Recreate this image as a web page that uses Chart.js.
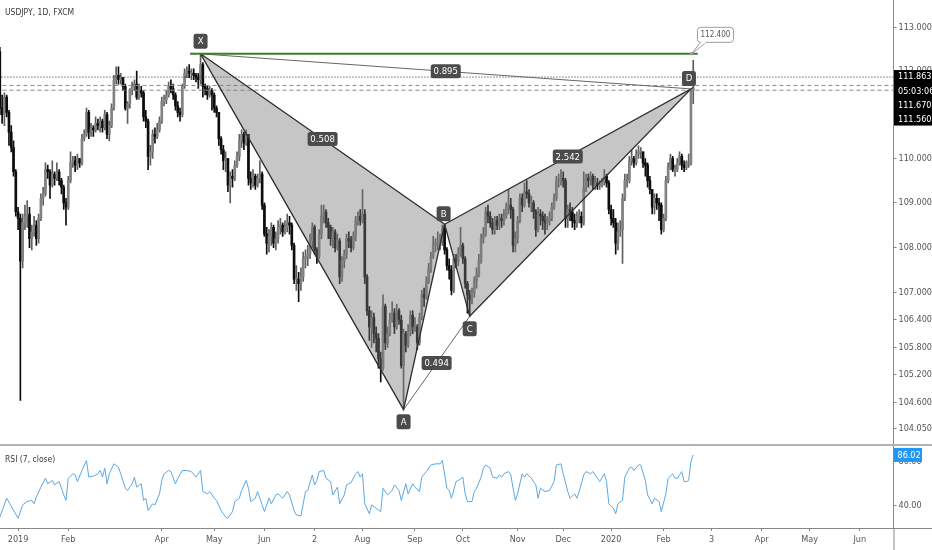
<!DOCTYPE html>
<html>
<head>
<meta charset="utf-8">
<script src="https://cdn.jsdelivr.net/npm/chart.js@4.4.1/dist/chart.umd.min.js"></script>
<style>
  html, body { margin: 0; padding: 0; background: #fff; }
  #wrap { width: 932px; height: 550px; overflow: hidden; }
  canvas { display: block; }
</style>
</head>
<body>
<div id="wrap">
  <canvas id="priceChart" width="932" height="444"></canvas>
  <canvas id="rsiChart" width="932" height="106"></canvas>
</div>
<script>
// bar index 0 = 1 Jan 2019, the first bar on screen is index -7
const firstIndex = -7;
const firstOpen = 112.45;

const closes = [
  111.15,111.00,111.40,111.05,110.60,110.25,109.70,108.80,108.65,107.70,
  108.55,108.70,108.75,108.20,108.35,108.50,108.20,108.65,109.10,109.20,
  109.75,109.70,109.40,109.65,109.55,109.70,109.50,109.35,109.00,108.90,
  109.50,109.90,109.95,109.85,110.00,109.90,110.45,110.55,111.05,110.60,
  110.70,110.65,110.80,110.75,110.85,110.70,111.00,110.55,110.75,111.15,
  111.80,111.90,111.80,111.85,111.65,111.15,111.25,111.55,111.65,111.70,
  111.40,111.55,111.50,110.95,110.85,110.05,110.15,110.55,110.50,110.65,
  110.85,111.30,111.35,111.45,111.65,111.60,111.45,111.20,111.05,111.00,
  111.65,111.95,112.00,111.95,111.95,111.90,111.85,111.80,112.15,111.65,
  111.60,111.45,111.55,111.45,111.15,111.05,110.45,110.20,109.95,110.00,
  109.40,109.60,109.55,109.85,110.05,110.40,110.55,110.35,110.55,109.55,
  109.45,109.60,109.40,109.55,109.65,108.95,108.30,108.10,108.25,108.45,
  108.10,108.20,108.45,108.50,108.35,108.45,108.55,108.50,108.05,107.30,
  107.30,107.20,107.35,107.75,107.80,107.85,108.15,108.45,107.95,107.80,
  108.30,108.70,108.80,108.55,108.45,108.20,108.35,108.00,108.15,107.35,
  107.70,107.85,108.20,108.15,108.00,108.25,108.60,108.70,108.60,108.75,
  107.35,106.60,106.25,106.45,106.10,106.00,105.55,105.35,106.70,105.90,
  106.10,106.40,106.55,106.25,106.60,106.40,105.40,106.10,105.85,106.15,
  106.50,106.25,106.25,105.90,106.45,106.95,106.90,107.25,107.55,107.80,
  108.05,108.10,108.10,108.15,108.40,107.95,107.60,107.50,107.05,107.75,
  107.70,107.90,108.05,107.75,107.20,106.95,106.85,107.00,107.25,107.40,
  107.70,108.20,108.30,108.80,108.70,108.55,108.40,108.60,108.50,108.65,
  108.60,108.70,108.90,108.95,108.85,108.05,108.20,108.60,109.10,108.95,
  109.25,109.20,109.00,109.00,108.80,108.40,108.75,108.70,108.60,108.55,
  108.60,108.65,108.90,109.10,109.50,109.50,109.55,109.50,108.65,108.85,
  108.80,108.60,108.55,108.70,108.70,108.55,109.35,109.55,109.50,109.60,
  109.40,109.45,109.40,109.40,109.45,109.60,109.45,108.85,108.65,108.55,
  108.10,108.35,108.40,109.10,109.50,109.50,109.95,110.00,109.90,110.10,
  110.15,110.15,109.90,109.85,109.50,109.30,108.90,109.10,109.00,108.95,
  108.40,108.65,109.50,109.80,110.00,109.75,109.75,109.90,110.05,109.85,
  109.80,109.90,109.90,111.55,111.62
];
const highs = [
  112.55,111.45,111.50,111.45,111.10,110.75,110.40,109.75,108.90,108.75,
  108.75,108.95,109.05,108.90,108.50,108.70,108.60,108.75,109.20,109.35,
  109.90,109.85,109.75,109.95,109.70,109.90,109.75,109.55,109.40,109.10,
  109.60,110.15,110.05,110.05,110.10,110.00,110.55,110.65,111.15,111.10,
  110.80,110.75,110.95,110.90,110.95,110.90,111.10,111.05,110.85,111.25,
  111.90,112.10,112.10,111.95,111.85,111.70,111.30,111.60,111.75,111.80,
  112.00,111.70,111.65,111.55,111.10,110.90,110.30,110.65,110.70,110.80,
  110.95,111.40,111.45,111.55,111.75,111.80,111.70,111.50,111.30,111.15,
  111.70,112.05,112.10,112.15,112.05,112.05,111.95,111.95,112.40,112.20,
  111.70,111.65,111.65,111.60,111.50,111.20,110.95,110.50,110.30,110.15,
  110.00,109.70,109.75,109.95,110.15,110.55,110.65,110.60,110.65,110.50,
  109.70,109.75,109.65,109.65,109.95,109.70,109.00,108.45,108.40,108.55,
  108.50,108.35,108.60,108.65,108.55,108.60,108.75,108.70,108.55,108.10,
  107.60,107.45,107.55,107.90,107.95,108.05,108.30,108.55,108.50,108.00,
  108.40,108.95,108.95,108.85,108.65,108.50,108.45,108.40,108.30,108.20,
  107.80,107.95,108.30,108.35,108.25,108.35,108.70,108.80,108.85,109.30,
  108.85,107.40,106.70,106.60,106.55,106.25,106.10,105.70,106.95,106.75,
  106.25,106.55,106.80,106.65,106.75,106.65,106.50,106.20,106.15,106.30,
  106.60,106.60,106.45,106.30,106.55,107.05,107.10,107.35,107.65,107.90,
  108.25,108.20,108.35,108.30,108.50,108.52,108.00,107.75,107.60,107.85,
  107.85,108.00,108.45,108.10,107.80,107.25,107.05,107.10,107.35,107.55,
  107.85,108.30,108.45,108.90,108.95,108.80,108.65,108.70,108.70,108.75,
  108.75,108.85,109.00,109.30,109.10,108.90,108.35,108.70,109.20,109.20,
  109.45,109.50,109.30,109.15,109.05,108.85,108.90,108.85,108.80,108.75,
  108.70,108.80,109.00,109.20,109.60,109.65,109.75,109.70,109.55,108.95,
  109.00,108.90,108.75,108.80,108.85,108.80,109.70,109.65,109.65,109.70,
  109.65,109.60,109.55,109.50,109.55,109.75,109.65,109.50,108.95,108.85,
  108.65,108.55,108.60,109.20,109.65,109.65,110.05,110.20,110.05,110.20,
  110.29,110.25,110.15,110.00,109.90,109.60,109.30,109.20,109.20,109.10,
  109.00,108.75,109.60,109.90,110.10,110.05,109.85,110.00,110.15,110.10,
  109.95,109.95,110.10,111.60,112.25
];
const lows = [
  111.00,110.80,110.75,110.95,110.30,110.15,109.60,108.70,108.40,104.65,
  107.55,108.40,108.45,108.00,107.95,108.25,108.05,108.10,108.60,108.95,
  109.15,109.55,109.10,109.35,109.40,109.50,109.40,109.20,108.85,108.50,
  108.85,109.45,109.80,109.70,109.75,109.80,109.85,110.40,110.50,110.45,
  110.50,110.50,110.60,110.65,110.60,110.60,110.65,110.45,110.40,110.70,
  111.10,111.70,111.70,111.70,111.55,111.10,110.80,111.15,111.45,111.55,
  111.35,111.35,111.40,110.85,110.70,109.75,109.85,110.00,110.35,110.45,
  110.60,110.80,111.20,111.25,111.40,111.50,111.35,111.10,110.95,110.85,
  110.95,111.60,111.85,111.85,111.80,111.80,111.75,111.60,111.70,111.40,
  111.45,111.35,111.40,111.10,111.05,110.95,110.30,110.10,109.75,109.70,
  109.25,109.00,109.35,109.50,109.80,109.95,110.25,110.20,110.30,109.40,
  109.30,109.35,109.30,109.35,109.45,108.85,108.25,107.85,107.90,108.05,
  108.00,107.95,108.10,108.30,108.25,108.30,108.35,108.30,107.95,107.20,
  107.05,106.80,107.05,107.25,107.55,107.60,107.75,108.00,107.85,107.65,
  107.75,108.20,108.55,108.45,108.20,108.05,108.00,107.90,107.95,107.20,
  107.25,107.55,107.75,108.00,107.90,107.95,108.15,108.50,108.50,108.55,
  107.20,106.50,105.95,105.80,105.90,105.70,105.35,105.05,105.30,105.75,
  105.80,106.05,106.35,106.10,106.20,106.30,105.35,104.45,105.70,105.80,
  106.05,106.10,106.15,105.75,105.85,106.40,106.70,106.85,107.20,107.45,
  107.75,107.90,107.95,107.95,108.05,107.85,107.50,107.30,106.95,107.00,
  107.55,107.60,107.80,107.65,107.10,106.55,106.48,106.75,106.90,107.10,
  107.35,107.65,108.10,108.25,108.55,108.45,108.30,108.30,108.40,108.40,
  108.45,108.50,108.65,108.75,108.65,107.90,107.90,108.10,108.55,108.80,
  108.90,109.10,108.90,108.80,108.65,108.25,108.35,108.50,108.40,108.30,
  108.40,108.50,108.60,108.85,109.05,109.35,109.40,109.35,108.45,108.45,
  108.60,108.45,108.40,108.45,108.55,108.45,108.50,109.25,109.35,109.40,
  109.30,109.30,109.30,109.30,109.35,109.40,109.35,108.75,108.50,108.45,
  107.85,107.95,108.25,107.65,109.05,109.35,109.45,109.85,109.80,109.85,
  110.00,110.00,109.80,109.60,109.35,109.20,108.75,108.75,108.85,108.60,
  108.30,108.35,108.60,109.45,109.75,109.70,109.60,109.70,109.85,109.75,
  109.70,109.75,109.80,109.85,111.25
];

// right price axis and date axis
const priceTicks = [113, 112, 111, 110, 109, 108, 107, 106.4, 105.8, 105.2, 104.6, 104.05];
const dateTickIdx = [1, 23, 64, 87, 109, 131, 152, 175, 196, 220, 240, 261, 284, 305, 327, 348, 370];
const dateTickLabels = ['2019', 'Feb', 'Apr', 'May', 'Jun', '2', 'Aug', 'Sep', 'Oct', 'Nov', 'Dec', '2020', 'Feb', '3', 'Apr', 'May', 'Jun'];

// XABCD pattern
const patternNames = ['X', 'A', 'B', 'C', 'D'];
const patternIdx = [81, 170, 188, 199, 296];
const patternPrice = [112.40, 104.45, 108.52, 106.48, 111.59];
const ratioPairs = [[0, 2], [1, 3], [2, 4], [0, 4]];
const ratioText = ['0.508', '0.494', '2.542', '0.895'];

// target line and price labels
const targetPrice = 112.400;
const targetFromIdx = 76.4;
const targetToIdx = 299;
const highLevel = 111.863;
const bidAsk = [111.670, 111.560];
const countdown = '05:03:06';

// RSI (7, close)
const rsiIdx = [
  -7,-4,1,3,5,7,8,9,11,13,
  14,16,17,19,21,22,23,25,26,27,
  29,31,32,34,36,37,38,39,40,41,
  43,45,46,48,49,51,52,53,55,56,
  57,58,60,61,63,64,65,67,68,70,
  71,73,75,77,79,81,82,84,85,87,
  88,90,92,93,95,96,98,99,101,102,
  103,105,106,108,109,111,112,114,115,117,
  119,120,122,123,125,127,128,130,131,132,
  133,135,136,138,139,141,142,144,145,147,
  149,150,151,152,153,155,156,158,160,161,
  163,165,166,168,169,171,172,174,175,177,
  178,180,182,184,186,187,189,190,191,193,
  194,196,197,198,200,201,202,204,205,206,
  208,209,211,212,213,214,216,217,219,220,
  222,223,224,226,228,229,230,232,234,236,
  237,239,240,242,243,245,246,247,249,250,
  252,253,255,256,258,259,260,262,263,264,
  266,267,269,270,271,273,274,276,277,279,
  280,282,283,285,286,288,289,290,292,293,
  294,295,296,297
];
const rsiVal = [
  30,47,29,41,44,45,42,48,57,65,
  60,63,59,62,50,45,65,69,68,62,
  72,81,66,67,69,72,66,74,60,69,
  78,75,69,56,54,60,66,57,60,45,
  47,36,42,41,51,63,69,72,71,60,
  65,72,72,71,66,72,53,51,53,47,
  45,36,30,29,35,44,47,54,63,56,
  44,47,53,41,35,47,42,50,51,47,
  53,50,36,32,31,53,54,68,59,63,
  71,72,65,62,50,57,42,50,59,61,
  69,71,66,69,42,33,41,38,35,56,
  50,54,59,54,45,60,51,60,57,53,
  66,71,77,78,78,81,56,54,47,62,
  63,66,51,44,44,53,56,66,74,77,
  74,66,65,68,66,69,71,68,45,51,
  69,66,69,65,59,47,56,53,54,62,
  77,78,69,53,47,51,47,53,68,71,
  69,71,65,62,69,62,42,38,33,42,
  45,66,74,75,72,77,77,63,50,42,
  47,44,35,51,65,69,65,65,71,62,
  62,63,80,86.02
];
const rsiTicks = [40, 80];
const rsiLast = 86.02;

// view ranges
const xMin = -6.93, xMax = 384.8;
const yMin = 103.714, yMax = 113.654;
const rsiMin = 20.18, rsiMax = 94.05;
const axisW = 38.5;

const FONT = "'Liberation Sans Narrow', 'DejaVu Sans Condensed', 'Liberation Sans', sans-serif";
Chart.defaults.font.family = FONT;
Chart.defaults.font.size = 9;
Chart.defaults.color = '#555';

// candles: open is the previous close
const candles = closes.map((c, k) => {
  const o = k === 0 ? firstOpen : closes[k - 1];
  return { x: firstIndex + k, o: o, c: c, h: Math.max(highs[k], o, c), l: Math.min(lows[k], o, c) };
});
const isUp = candles.map(d => d.c >= d.o);

function lineSet(data, color, width, extra) {
  return Object.assign({ type: 'line', data: data, borderColor: color, borderWidth: width,
    pointRadius: 0, tension: 0, fill: false }, extra || {});
}
const P = k => ({ x: patternIdx[k], y: patternPrice[k] });
const across = v => [{ x: xMin - 2, y: v }, { x: xMax + 2, y: v }];

function rrect(ctx, x, y, w, h, r) {
  ctx.beginPath();
  ctx.moveTo(x + r, y);
  ctx.arcTo(x + w, y, x + w, y + h, r);
  ctx.arcTo(x + w, y + h, x, y + h, r);
  ctx.arcTo(x, y + h, x, y, r);
  ctx.arcTo(x, y, x + w, y, r);
  ctx.closePath();
}
function tag(ctx, cx, cy, text, w, h) {
  ctx.fillStyle = '#4b4b4b';
  rrect(ctx, cx - w / 2, cy - h / 2, w, h, 2.5);
  ctx.fill();
  ctx.fillStyle = '#fff';
  ctx.textAlign = 'center';
  ctx.textBaseline = 'middle';
  ctx.fillText(text, cx, cy + 0.5);
}

//Draws the text boxes of the pattern and the labels on the price axis.
const priceOverlay = {
  id: 'priceOverlay',
  afterDraw(chart) {
    const ctx = chart.ctx;
    const xs = chart.scales.x, ys = chart.scales.y;
    const px = k => xs.getPixelForValue(patternIdx[k]);
    const py = k => ys.getPixelForValue(patternPrice[k]);
    ctx.save();
    ctx.font = '8.5px ' + FONT;
    ctx.fillStyle = '#3a3a3a';
    ctx.textAlign = 'left';
    ctx.textBaseline = 'middle';
    ctx.fillText('USDJPY, 1D, FXCM', 5, 13);

    ctx.font = '9.5px ' + FONT;
    ratioPairs.forEach((pr, k) => {
      tag(ctx, (px(pr[0]) + px(pr[1])) / 2, (py(pr[0]) + py(pr[1])) / 2, ratioText[k], 30, 14);
    });
    const letterDy = [-12.5, 12, -10.5, 12.5, -10.5];
    const letterDx = [0, 0, -1, 0, -2];
    patternNames.forEach((n, k) => tag(ctx, px(k) + letterDx[k], py(k) + letterDy[k], n, 14, 15));

    // callout on the end of the target line
    const tx = px(4) + 0.5, ty = ys.getPixelForValue(targetPrice);
    const bx = tx + 6, by = ty - 26.5, bw = 36, bh = 15;
    ctx.fillStyle = '#fff';
    ctx.strokeStyle = '#9c9c9c';
    ctx.lineWidth = 1;
    ctx.beginPath();
    ctx.moveTo(bx + 3, by + bh);
    ctx.lineTo(tx, ty);
    ctx.lineTo(bx + 9, by + bh);
    ctx.fill();
    ctx.stroke();
    rrect(ctx, bx, by, bw, bh, 3);
    ctx.fill();
    ctx.stroke();
    ctx.fillStyle = '#fff';
    ctx.fillRect(bx + 3.5, by + bh - 1, 5, 2);
    ctx.fillStyle = '#9a9a9a';
    ctx.beginPath();
    ctx.arc(tx, ty, 1.8, 0, Math.PI * 2);
    ctx.fill();
    ctx.font = '8px ' + FONT;
    ctx.fillStyle = '#555';
    ctx.textAlign = 'center';
    ctx.fillText(targetPrice.toFixed(3), bx + bw / 2, by + bh / 2 + 0.5);

    // price labels on the axis
    const ax = chart.chartArea.right + 0.5;
    const hy = ys.getPixelForValue(highLevel);
    ctx.fillStyle = '#000';
    ctx.fillRect(ax, hy - 7, 932 - ax, 55.5);
    ctx.fillStyle = '#fff';
    ctx.font = '9px ' + FONT;
    ctx.textAlign = 'left';
    const rows = [highLevel.toFixed(3), countdown, bidAsk[0].toFixed(3), bidAsk[1].toFixed(3)];
    rows.forEach((t, k) => ctx.fillText(t, ax + 4, hy + k * 14.2));
    ctx.restore();
  }
};

new Chart(document.getElementById('priceChart'), {
  type: 'bar',
  data: {
    datasets: [
      { label: 'wicks', data: candles.map(d => ({ x: d.x, y: [d.l, d.h] })),
        backgroundColor: isUp.map(u => u ? '#5e5e5e' : '#0d0d0d'), barThickness: 1, order: 20 },
      { label: 'bodies', data: candles.map(d => ({ x: d.x, y: [Math.min(d.o, d.c), Math.max(d.o, d.c)] })),
        backgroundColor: isUp.map(u => u ? '#828282' : '#0d0d0d'), barThickness: 2, minBarLength: 1, order: 19 },
      lineSet(across(highLevel), '#222', 1, { borderDash: [1, 2], order: 15 }),
      lineSet(across(bidAsk[0]), '#8a8a8a', 1, { borderDash: [4, 3], order: 15 }),
      lineSet(across(bidAsk[1]), '#8a8a8a', 1, { borderDash: [4, 3], order: 15 }),
      lineSet([P(0), P(1), P(2), P(0)], '#2e2e2e', 1.3, { fill: 'shape', backgroundColor: 'rgba(120,120,120,0.42)', order: 10 }),
      lineSet([P(2), P(3), P(4), P(2)], '#2e2e2e', 1.3, { fill: 'shape', backgroundColor: 'rgba(120,120,120,0.42)', order: 10 }),
      lineSet([P(1), P(3)], '#666', 1, { order: 8 }),
      lineSet([P(0), P(4)], '#666', 1, { order: 8 }),
      lineSet([{ x: targetFromIdx, y: targetPrice }, { x: targetToIdx, y: targetPrice }], '#3b7d1f', 2, { order: 5 })
    ]
  },
  options: {
    responsive: false,
    animation: false,
    devicePixelRatio: 1,
    layout: { padding: 0, autoPadding: false },
    datasets: { bar: { grouped: false, borderWidth: 0 } },
    plugins: { legend: { display: false }, tooltip: { enabled: false } },
    scales: {
      x: { type: 'linear', min: xMin, max: xMax, offset: false, display: false },
      y: {
        type: 'logarithmic', position: 'right', min: yMin, max: yMax,
        afterBuildTicks: s => { s.ticks = priceTicks.map(v => ({ value: v })); },
        afterFit: s => { s.width = axisW; s.paddingTop = 0; s.paddingBottom = 0; },
        grid: { drawOnChartArea: false, color: '#888', tickLength: 3 },
        border: { color: '#888' },
        ticks: { padding: 2, color: '#555', autoSkip: false, callback: v => Number(v).toFixed(3) }
      }
    }
  },
  plugins: [priceOverlay]
});

//RSI pane with the date axis.
const rsiOverlay = {
  id: 'rsiOverlay',
  afterDraw(chart) {
    const ctx = chart.ctx;
    const area = chart.chartArea;
    ctx.save();
    ctx.fillStyle = '#b3b3b3';
    ctx.fillRect(0, 0, 932, 2);
    ctx.strokeStyle = '#888';
    ctx.lineWidth = 1;
    ctx.beginPath();
    ctx.moveTo(area.right, area.bottom + 0.5);
    ctx.lineTo(932, area.bottom + 0.5);
    ctx.moveTo(area.right + 0.5, area.bottom);
    ctx.lineTo(area.right + 0.5, 106);
    ctx.stroke();
    ctx.font = '8.5px ' + FONT;
    ctx.fillStyle = '#3a3a3a';
    ctx.textAlign = 'left';
    ctx.textBaseline = 'middle';
    ctx.fillText('RSI (7, close)', 5, 16);
    const ly = chart.scales.y.getPixelForValue(rsiLast);
    ctx.fillStyle = '#2196f3';
    ctx.fillRect(area.right + 0.5, ly - 7, 28, 14);
    ctx.fillStyle = '#fff';
    ctx.font = '9px ' + FONT;
    ctx.fillText(rsiLast.toFixed(2), area.right + 4, ly + 0.5);
    ctx.restore();
  }
};

new Chart(document.getElementById('rsiChart'), {
  type: 'line',
  data: {
    datasets: [{
      data: rsiIdx.map((v, k) => ({ x: v, y: rsiVal[k] })),
      borderColor: '#5aa8e6', borderWidth: 1, pointRadius: 0, tension: 0, fill: false
    }]
  },
  options: {
    responsive: false,
    animation: false,
    devicePixelRatio: 1,
    layout: { padding: { top: 2, left: 0, right: 0, bottom: 0 }, autoPadding: false },
    plugins: { legend: { display: false }, tooltip: { enabled: false } },
    scales: {
      x: {
        type: 'linear', min: xMin, max: xMax,
        afterBuildTicks: s => { s.ticks = dateTickIdx.map(v => ({ value: v })); },
        afterFit: s => { s.height = 22; s.paddingLeft = 0; s.paddingRight = 0; },
        grid: { drawOnChartArea: false, color: '#888', tickLength: 3 },
        border: { color: '#888' },
        ticks: { padding: 3, color: '#555', autoSkip: false, maxRotation: 0, minRotation: 0,
          callback: v => dateTickLabels[dateTickIdx.indexOf(v)] }
      },
      y: {
        type: 'linear', position: 'right', min: rsiMin, max: rsiMax,
        afterBuildTicks: s => { s.ticks = rsiTicks.map(v => ({ value: v })); },
        afterFit: s => { s.width = axisW; s.paddingTop = 0; s.paddingBottom = 0; },
        grid: { drawOnChartArea: false, color: '#888', tickLength: 3 },
        border: { color: '#888' },
        ticks: { padding: 2, color: '#555', callback: v => Number(v).toFixed(2) }
      }
    }
  },
  plugins: [rsiOverlay]
});
</script>
</body>
</html>
